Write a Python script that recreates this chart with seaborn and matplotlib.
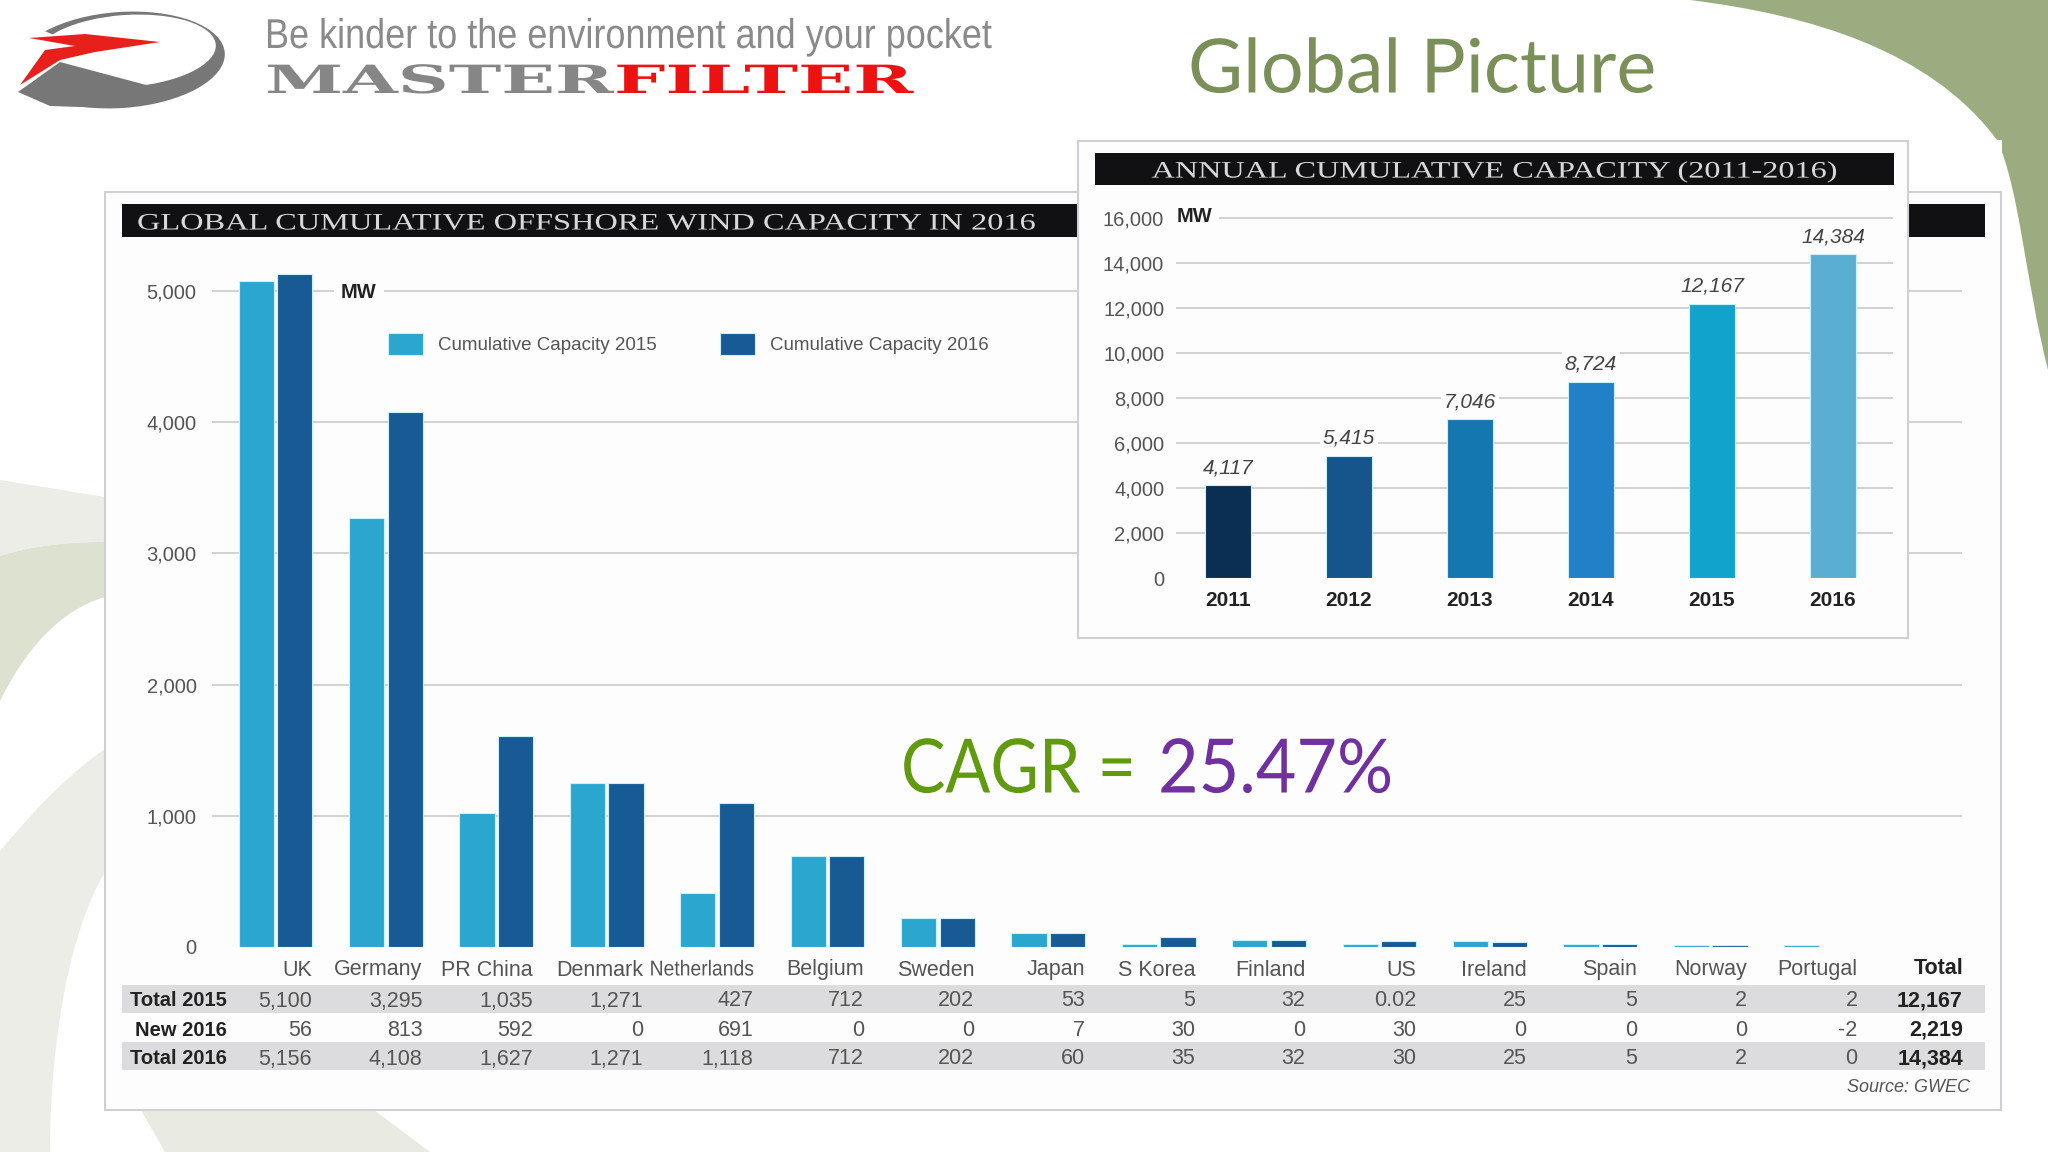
"""Offshore wind capacity slide: grouped country bars with an annual inset."""

import matplotlib

matplotlib.use("Agg")

import matplotlib.patheffects as pe
import matplotlib.pyplot as plt
import pandas as pd
import seaborn as sns
from matplotlib.patches import Ellipse, PathPatch, Polygon, Rectangle
from matplotlib.path import Path as MplPath
from matplotlib.transforms import Affine2D, ScaledTranslation

countries = ["UK", "Germany", "PR China", "Denmark", "Netherlands", "Belgium", "Sweden", "Japan",
             "S Korea", "Finland", "US", "Ireland", "Spain", "Norway", "Portugal"]

# bar heights as drawn in the picture (the smallest bars are drawn taller than the table says)
bars_2015 = [5080, 3270, 1025, 1250, 415, 695, 219, 110, 25, 50, 20, 45, 25, 15, 15]
bars_2016 = [5130, 4080, 1610, 1250, 1100, 695, 219, 110, 75, 50, 45, 40, 25, 15, 0]

# table rows
total_2015 = [5100, 3295, 1035, 1271, 427, 712, 202, 53, 5, 32, 0.02, 25, 5, 2, 2]
new_2016 = [56, 813, 592, 0, 691, 0, 0, 7, 30, 0, 30, 0, 0, 0, -2]
total_2016 = [5156, 4108, 1627, 1271, 1118, 712, 202, 60, 35, 32, 30, 25, 5, 2, 0]
row_totals = [12167, 2219, 14384]
row_names = ["Total 2015", "New 2016", "Total 2016"]

years = ["2011", "2012", "2013", "2014", "2015", "2016"]
annual = [4117, 5415, 7046, 8724, 12167, 14384]
annual_colors = ["#0b2f52", "#15558c", "#1477b0", "#2180c8", "#12a3cd", "#5aaed2"]

main_ticks = [0, 1000, 2000, 3000, 4000, 5000]
inset_ticks = [0, 2000, 4000, 6000, 8000, 10000, 12000, 14000, 16000]

W, H = 2048, 1152
TEXT_GREY = "#555555"

sns.set_theme(style="white")
plt.rcParams["font.family"] = ["Liberation Sans", "DejaVu Sans"]

fig = plt.figure(figsize=(W / 100, H / 100), dpi=100, facecolor="white")


def overlay(zorder):
    ax = fig.add_axes([0, 0, 1, 1], zorder=zorder)
    ax.set_xlim(0, W)
    ax.set_ylim(H, 0)
    ax.axis("off")
    return ax


def axes_px(x0, y0, x1, y1, zorder):
    ax = fig.add_axes([x0 / W, 1 - y1 / H, (x1 - x0) / W, (y1 - y0) / H], zorder=zorder)
    ax.patch.set_visible(False)
    return ax


class Stretch(pe.AbstractPathEffect):
    """Scale text horizontally around its anchor."""

    def __init__(self, x0, sx):
        super().__init__()
        self.x0, self.sx = x0, sx

    def draw_path(self, renderer, gc, tpath, affine, rgbFace=None):
        affine = affine + Affine2D().translate(-self.x0, 0).scale(self.sx, 1).translate(self.x0, 0)
        renderer.draw_path(gc, tpath, affine, rgbFace)


def fit_width(t, width_px):
    w = t.get_window_extent(fig.canvas.get_renderer()).width
    x0 = t.get_transform().transform(t.get_position())[0]
    t.set_path_effects([Stretch(x0, width_px / w)])


def blob(ax, color, start, *segments):
    """Filled shape: each segment is one point (line) or three points (cubic curve)."""
    verts, codes = [start], [MplPath.MOVETO]
    for seg in segments:
        verts += seg
        codes += [MplPath.LINETO] if len(seg) == 1 else [MplPath.CURVE4] * 3
    verts.append(start)
    codes.append(MplPath.CLOSEPOLY)
    ax.add_patch(PathPatch(MplPath(verts, codes), facecolor=color, edgecolor="none"))


bg = overlay(0)
mid = overlay(2)
top = overlay(4)

# ── slide background shapes
blob(bg, "#9bad80", (1690, 0), [(1810, 15), (1930, 50), (1997, 140)],
     [(2020, 190), (2025, 280), (2048, 370)], [(2048, 0)])
bg.add_patch(Rectangle((1996, 140), 6, 16, facecolor="white", edgecolor="none"))
blob(bg, "#ebede6", (0, 480), [(105, 497)], [(105, 542)], [(70, 542), (35, 545), (0, 556)])
blob(bg, "#dde1d0", (0, 556), [(35, 545), (70, 542), (105, 542)], [(105, 597)], [(60, 610), (25, 650), (0, 701)])
blob(bg, "#ebede6", (0, 851), [(30, 815), (70, 772), (105, 749)], [(105, 872)],
     [(70, 930), (50, 1040), (50, 1152)], [(0, 1152)])
blob(bg, "#e9ebe3", (141, 1110), [(374, 1110)], [(430, 1152)], [(165, 1152)])

# ── logo and tagline
bg.add_patch(Ellipse((121, 60), 208, 96, angle=-4, facecolor="#777777", edgecolor="none"))
bg.add_patch(Ellipse((126, 51), 180, 72, angle=-4, facecolor="white", edgecolor="none"))
bg.add_patch(Polygon([(10, 32), (42, 30), (90, 50), (25, 90), (10, 80)], facecolor="white", edgecolor="none"))
bg.add_patch(Polygon([(18, 92), (60, 62), (150, 86), (110, 108), (50, 106)], facecolor="#777777", edgecolor="none"))
bg.add_patch(Polygon([(29, 38), (85, 34), (160, 42), (95, 52), (60, 60), (20, 85), (45, 50), (75, 46)],
                     facecolor="#e8201c", edgecolor="none"))

t = bg.text(265, 37, "Be kinder to the environment and your pocket", fontsize=30, color="#8a8a8a",
            ha="left", va="center")
fit_width(t, 726)
t = bg.text(265, 93, "MASTER", fontsize=28, color="#868686", family=["DejaVu Serif"], weight="bold",
            ha="left", va="baseline")
fit_width(t, 349)
t = bg.text(614, 93, "FILTER", fontsize=28, color="#ee1111", family=["DejaVu Serif"], weight="bold",
            ha="left", va="baseline")
fit_width(t, 300)
t = bg.text(1188, 71, "Global Picture", fontsize=54, color="#7a9058", family=["Lato", "DejaVu Sans"],
            ha="left", va="center")
fit_width(t, 468)

# ── main panel
bg.add_patch(Rectangle((105, 192), 1896, 918, facecolor="#fdfdfe", edgecolor="#d0d0d4", linewidth=1.5))
bg.add_patch(Rectangle((122, 204), 1863, 33, facecolor="#111114", edgecolor="none"))
t = bg.text(137, 224, "GLOBAL CUMULATIVE OFFSHORE WIND CAPACITY IN 2016", fontsize=17, color="#d8d8d8",
            family=["Liberation Serif"], ha="left", va="center")
fit_width(t, 899)
for y0 in (985, 1042):
    bg.add_patch(Rectangle((122, y0), 1863, 28, facecolor="#dcdcde", edgecolor="none"))

MAIN_C0, MAIN_STEP = 275.5, 110.4
MAIN_Y0, MAIN_SCALE = 947, 656 / 5000
main_top = 5200
ax = axes_px(212, MAIN_Y0 - main_top * MAIN_SCALE, 1962, MAIN_Y0, 1)

df = pd.DataFrame({"country": countries, "Cumulative Capacity 2015": bars_2015, "Cumulative Capacity 2016": bars_2016})
long_df = df.melt(id_vars="country", var_name="series", value_name="mw")
sns.barplot(data=long_df, x="country", y="mw", hue="series", order=countries, ax=ax,
            palette=["#2ba6cf", "#175a94"], width=0.7, gap=0.09, saturation=1,
            edgecolor="#c8f2fa", linewidth=0.8, zorder=3)
ax.set_xlim((212 - MAIN_C0) / MAIN_STEP, (1962 - MAIN_C0) / MAIN_STEP)
ax.set_ylim(0, main_top)
ax.set_xlabel("")
ax.set_ylabel("")
ax.set_yticks(main_ticks)
ax.set_yticklabels([f"{v:,}" for v in main_ticks])
ax.grid(axis="y", color="#cfcfcf", linewidth=1.3)
ax.grid(axis="x", visible=False)
ax.set_axisbelow(True)
ax.yaxis.get_gridlines()[0].set_visible(False)
ax.tick_params(axis="y", length=0, pad=11, labelsize=14.5, labelcolor=TEXT_GREY)
ax.tick_params(axis="x", length=0, pad=9, labelsize=15.5, labelcolor=TEXT_GREY)
shift = ScaledTranslation(36.5 / 100, 0, fig.dpi_scale_trans)
for lab in ax.get_xticklabels():
    lab.set_ha("right")
    lab.set_transform(lab.get_transform() + shift)
    if lab.get_text() == "Netherlands":
        fig.canvas.draw()
        fit_width(lab, 104)
sns.despine(ax=ax, left=True, bottom=True)
sns.move_legend(ax, "upper left", bbox_to_anchor=(388 / W, 1 - 333 / H), bbox_transform=fig.transFigure,
                ncol=2, title=None, frameon=False, fontsize=13.5, borderpad=0, borderaxespad=0,
                handlelength=1.87, handleheight=1.39, handletextpad=0.8, columnspacing=3.36)
for lt in ax.get_legend().get_texts():
    lt.set_color(TEXT_GREY)
ax.text(359, 292, "MW", fontsize=14.5, weight="bold", color="#222222", ha="center", va="center",
        transform=bg.transData, bbox=dict(facecolor="#fdfdfe", edgecolor="none", pad=5))

# ── table under the main chart
for row_y, name, row, total in zip((1001, 1030, 1059), row_names, (total_2015, new_2016, total_2016), row_totals):
    top.text(227, row_y, name, fontsize=14.5, weight="bold", color="#222222", ha="right", va="center")
    for i, v in enumerate(row):
        top.text(312 + MAIN_STEP * i, row_y, f"{v:,}", fontsize=15.5, color=TEXT_GREY, ha="right", va="center")
    top.text(1963, row_y, f"{total:,}", fontsize=15.5, weight="bold", color="#222222", ha="right", va="center")
top.text(1963, 969, "Total", fontsize=15.5, weight="bold", color="#222222", ha="right", va="center")
top.text(1970, 1087, "Source: GWEC", fontsize=13, style="italic", color=TEXT_GREY, ha="right", va="center")

# ── inset panel
mid.add_patch(Rectangle((1078, 141), 830, 497, facecolor="#fdfdfe", edgecolor="#d0d0d4", linewidth=1.5))
mid.add_patch(Rectangle((1095, 153), 799, 32, facecolor="#111114", edgecolor="none"))
t = mid.text(1494.5, 172, "ANNUAL CUMULATIVE CAPACITY (2011-2016)", fontsize=17, color="#d8d8d8",
             family=["Liberation Serif"], ha="center", va="center")
fit_width(t, 686)

INSET_C0, INSET_STEP = 1228, 121
INSET_Y0, INSET_SCALE = 578, 360 / 16000
inset_top = 16400
ax2 = axes_px(1176, INSET_Y0 - inset_top * INSET_SCALE, 1893, INSET_Y0, 3)
inset_df = pd.DataFrame({"year": years, "mw": annual})
sns.barplot(data=inset_df, x="year", y="mw", hue="year", palette=annual_colors, legend=False, ax=ax2,
            width=0.38, saturation=1, edgecolor="#c8f2fa", linewidth=0.8, zorder=3)
ax2.set_xlim((1176 - INSET_C0) / INSET_STEP, (1893 - INSET_C0) / INSET_STEP)
ax2.set_ylim(0, inset_top)
ax2.set_xlabel("")
ax2.set_ylabel("")
ax2.set_yticks(inset_ticks)
ax2.set_yticklabels([f"{v:,}" for v in inset_ticks])
ax2.grid(axis="y", color="#cfcfcf", linewidth=1.3)
ax2.grid(axis="x", visible=False)
ax2.set_axisbelow(True)
ax2.yaxis.get_gridlines()[0].set_visible(False)
ax2.tick_params(axis="y", length=0, pad=8.5, labelsize=14.5, labelcolor=TEXT_GREY)
ax2.tick_params(axis="x", length=0, pad=9.5, labelsize=15)
for lab in ax2.get_xticklabels():
    lab.set_fontweight("bold")
    lab.set_color("#222222")
sns.despine(ax=ax2, left=True, bottom=True)
for cont in ax2.containers:
    ax2.bar_label(cont, labels=[f"{v:,.0f}" for v in cont.datavalues], padding=6, fontsize=15, style="italic",
                  color="#444444", bbox=dict(facecolor="#fdfdfe", edgecolor="none", pad=2))
ax2.text(1194, 216, "MW", fontsize=14.5, weight="bold", color="#222222", ha="center", va="center",
         transform=bg.transData, bbox=dict(facecolor="#fdfdfe", edgecolor="none", pad=5))

# ── CAGR callout
t = top.text(901, 771, "CAGR =", fontsize=54, color="#5f9a0f", family=["Lato", "DejaVu Sans"], ha="left", va="center")
fit_width(t, 235)
t = top.text(1158, 771, "25.47%", fontsize=54, color="#7030a0", family=["Lato", "DejaVu Sans"], ha="left", va="center")
fit_width(t, 235)

fig.savefig("out.png", dpi=100)
